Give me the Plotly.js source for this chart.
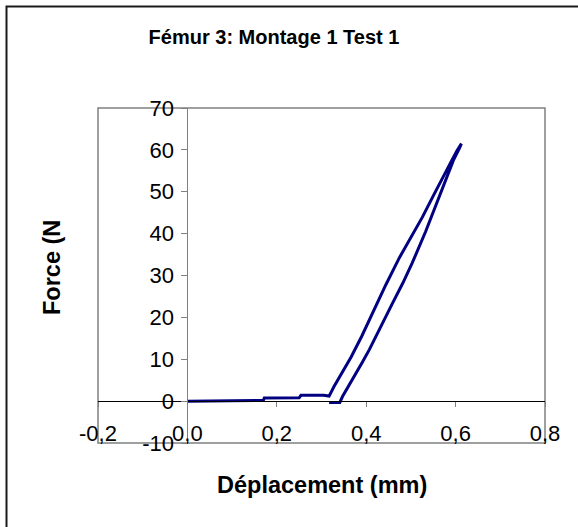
<!DOCTYPE html>
<html>
<head>
<meta charset="utf-8">
<script src="https://cdn.plot.ly/plotly-3.0.1.min.js"></script>
<style>html,body{margin:0;padding:0;background:#fff;}#chart{width:578px;height:527px;}</style>
</head>
<body>
<div id="chart"></div>
<script>
// Displacement (mm) and force (N): loading then unloading path
const deplacement = [0, 0.03, 0.10, 0.17, 0.172, 0.25, 0.254, 0.305, 0.317, 0.328, 0.345, 0.366, 0.39, 0.414, 0.444, 0.474, 0.50, 0.526, 0.55, 0.571, 0.59, 0.603, 0.613,
  0.609, 0.595, 0.58, 0.56, 0.533, 0.503, 0.482, 0.459, 0.433, 0.407, 0.392, 0.377, 0.362, 0.347, 0.341, 0.336, 0.317];
const force = [0, 0, 0.1, 0.2, 0.75, 0.8, 1.4, 1.4, 1.2, 3.5, 6.5, 10.5, 15.5, 21, 27.8, 34.2, 39.2, 44, 49, 53.5, 57.2, 59.8, 61.5,
  60.5, 57.5, 53.5, 48, 40.5, 33, 28.2, 23.4, 17.8, 12.3, 9.4, 6.7, 3.8, 1.1, -0.3, -0.3, -0.3];
const xTicks = [-0.2, 0, 0.2, 0.4, 0.6, 0.8];
const xTickLabels = ['-0,2', '0,0', '0,2', '0,4', '0,6', '0,8'];
const yTicks = [-10, 0, 10, 20, 30, 40, 50, 60, 70];
const yTickLabels = ['-10', '0', '10', '20', '30', '40', '50', '60', '70'];

const trace = {
  x: deplacement, y: force, type: 'scatter', mode: 'lines',
  line: {color: '#000080', width: 3}, hoverinfo: 'skip'
};

const F = 'Liberation Sans, Arial, sans-serif';
const layout = {
  width: 578, height: 527,
  margin: {l: 98, r: 33, t: 108, b: 84},
  paper_bgcolor: '#fff', plot_bgcolor: '#fff',
  showlegend: false,
  font: {family: F, color: '#000'},
  title: {text: '<b>Fémur 3: Montage 1 Test 1</b>', font: {family: F, size: 20, color: '#000'},
          xref: 'container', x: 274/578, xanchor: 'center', yref: 'container', y: 1 - 37/527, yanchor: 'middle'},
  xaxis: {
    range: [-0.2, 0.8], tickvals: xTicks, ticktext: xTickLabels,
    showgrid: false, zeroline: false, showline: true, linecolor: '#000', linewidth: 1,
    anchor: 'free', position: 0.125,
    ticks: 'outside', ticklen: 5, tickcolor: '#808080', tickwidth: 1,
    ticklabelstandoff: 7,
    tickfont: {family: F, size: 22, color: '#000'}
  },
  yaxis: {
    range: [-10, 70], tickvals: yTicks, ticktext: yTickLabels,
    showgrid: false, zeroline: false, showline: true, linecolor: '#808080', linewidth: 1,
    anchor: 'free', position: 0.2,
    ticks: 'outside', ticklen: 6, tickcolor: '#808080', tickwidth: 1,
    ticklabelstandoff: 3,
    tickfont: {family: F, size: 22, color: '#000'}
  },
  shapes: [
    {type: 'rect', xref: 'paper', yref: 'paper', x0: 0, x1: 1, y0: 0, y1: 1,
     line: {color: '#808080', width: 1.5}, layer: 'below'},
    {type: 'rect', xref: 'paper', yref: 'paper', x0: (6.5-98)/447, x1: 1.3, y0: -0.4, y1: (443-6.5)/335,
     line: {color: '#1a1a1a', width: 2}, layer: 'below'}
  ],
  annotations: [
    {text: '<b>Déplacement (mm)</b>', xref: 'paper', yref: 'paper', x: 0.5, y: (443-485)/335,
     xanchor: 'center', yanchor: 'middle', showarrow: false, font: {family: F, size: 23.5, color: '#000'}},
    {text: '<b>Force (N</b>', xref: 'paper', yref: 'paper', x: (52-98)/447, y: (443-268)/335,
     xanchor: 'center', yanchor: 'middle', textangle: -90, showarrow: false, font: {family: F, size: 23.5, color: '#000'}}
  ]
};

Plotly.newPlot('chart', [trace], layout, {displayModeBar: false, staticPlot: true});
</script>
</body>
</html>
